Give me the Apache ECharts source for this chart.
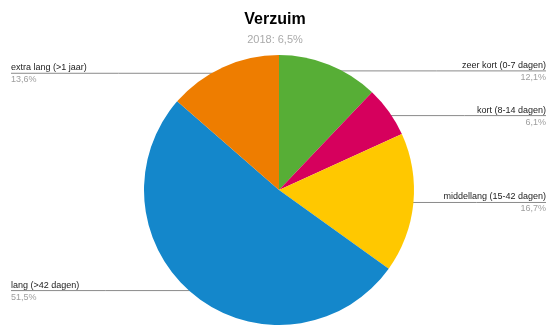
<!DOCTYPE html>
<html>
<head>
<meta charset="utf-8">
<script src="https://cdn.jsdelivr.net/npm/echarts@6/dist/echarts.min.js"></script>
<style>
  html, body { margin: 0; padding: 0; background: #fff; }
  #chart { width: 550px; height: 325px; }
</style>
</head>
<body>
<div id="chart"></div>
<script>
// Absence categories, clockwise from 12 o'clock
const categories = [
  'zeer kort (0-7 dagen)',
  'kort (8-14 dagen)',
  'middellang (15-42 dagen)',
  'lang (>42 dagen)',
  'extra lang (>1 jaar)'
];
const shares = [12.1, 6.1, 16.7, 51.5, 13.6];
const sliceColors = ['#57ae36', '#d6005d', '#ffc800', '#1487cb', '#ee7d00'];

const CENTER = [279, 190];
const RADIUS = 135;
const DOT_RATIO = 0.95;   // leader line starts just inside the rim

function fmtPct(v) {
  return v.toFixed(1).replace('.', ',') + '%';
}

const chart = echarts.init(document.getElementById('chart'), null, { renderer: 'canvas' });

chart.setOption({
  animation: false,
  backgroundColor: '#ffffff',
  title: {
    text: 'Verzuim',
    subtext: '2018: ' + fmtPct(6.5),
    left: 'center',
    top: 7,
    itemGap: 6,
    textStyle: { fontFamily: 'Liberation Sans, Arial, sans-serif', fontSize: 16, fontWeight: 'bold', color: '#000' },
    subtextStyle: { fontFamily: 'Liberation Sans, Arial, sans-serif', fontSize: 11, color: '#aaaaaa' }
  },
  series: [{
    type: 'pie',
    center: CENTER,
    radius: RADIUS,
    startAngle: 90,
    clockwise: true,
    silent: true,
    data: categories.map((name, i) => ({
      name: name,
      value: shares[i],
      itemStyle: { color: sliceColors[i] }
    })),
    label: {
      show: true,
      position: 'outside',
      overflow: 'none',
      formatter: p => '{n|' + p.name + '}\n{p|' + fmtPct(p.value) + '}',
      rich: {
        n: { fontFamily: 'Liberation Sans, Arial, sans-serif', fontSize: 9, color: '#222', lineHeight: 12 },
        p: { fontFamily: 'Liberation Sans, Arial, sans-serif', fontSize: 9, color: '#9e9e9e', lineHeight: 12 }
      }
    },
    labelLine: {
      show: true,
      length: 5,
      length2: 5,
      lineStyle: { color: '#8a8a8a', width: 1 }
    },
    labelLayout: function (params) {
      const edge = params.labelLinePoints[0];
      const dx = edge[0] - CENTER[0];
      const dy = edge[1] - CENTER[1];
      const len = Math.sqrt(dx * dx + dy * dy);
      const dot = [CENTER[0] + dx / len * RADIUS * DOT_RATIO, CENTER[1] + dy / len * RADIUS * DOT_RATIO];
      const right = dx >= 0;
      const endX = right ? 546 : 11;
      return {
        x: endX,
        y: dot[1] + 0.5,
        align: right ? 'right' : 'left',
        verticalAlign: 'middle',
        width: 200,
        labelLinePoints: [dot, [(dot[0] + endX) / 2, dot[1]], [endX, dot[1]]]
      };
    }
  }]
});
</script>
</body>
</html>
